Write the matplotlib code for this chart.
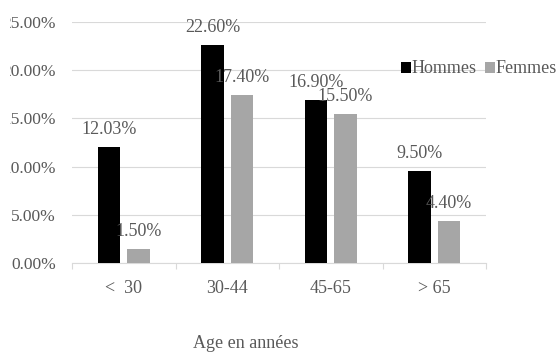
import matplotlib.pyplot as plt
from matplotlib.patches import Rectangle
import numpy as np

# données
categories = ["<  30", "30-44", "45-65", "> 65"]
hommes = [12.03, 22.60, 16.90, 9.50]
femmes = [1.50, 17.40, 15.50, 4.40]
yticks = [0, 5, 10, 15, 20, 25]

plt.rcParams['font.family'] = ['Liberation Serif', 'DejaVu Serif']
gris_texte = '#595959'
gris_ligne = '#d9d9d9'
taille = 13

fig = plt.figure(figsize=(5.6, 3.52), dpi=100)
ax = fig.add_axes([0.1286, 0.2528, 0.8679 - 0.1286, 0.9375 - 0.2528])

x = np.arange(len(categories))
largeur = 0.22
decal = 0.142
b1 = ax.bar(x - decal, hommes, largeur, color='#000000', label='Hommes', zorder=3)
b2 = ax.bar(x + decal, femmes, largeur, color='#a6a6a6', label='Femmes', zorder=3)

for barres in (b1, b2):
    ax.bar_label(barres, fmt='%.2f%%', padding=6.5, fontsize=taille, color=gris_texte)

ax.set_xlim(-0.5, 3.5)
ax.set_ylim(0, 25)
ax.set_yticks(yticks)
ax.set_yticklabels([f"{v:.2f}%" for v in yticks])
ax.set_xticks(x)
ax.set_xticklabels(categories)
ax.set_xticks(np.arange(-0.5, 4, 1), minor=True)

ax.tick_params(axis='y', length=0, pad=11.5, labelsize=12.5, labelcolor=gris_texte)
ax.tick_params(axis='x', which='major', length=0, pad=12, labelsize=taille, labelcolor=gris_texte)
ax.tick_params(axis='x', which='minor', length=4.3, width=0.8, color=gris_ligne, direction='out')

ax.grid(axis='y', color=gris_ligne, linewidth=0.8, zorder=0)
for s in ['top', 'right', 'left']:
    ax.spines[s].set_visible(False)
ax.spines['bottom'].set_color(gris_ligne)
ax.spines['bottom'].set_linewidth(0.8)

leg = fig.legend(loc='center left', bbox_to_anchor=(0.7155, 0.804), ncol=2, frameon=False,
                 fontsize=taille, handlelength=0.55, handleheight=0.55, handletextpad=0.05,
                 columnspacing=0.45, borderpad=0, borderaxespad=0)
for t in leg.get_texts():
    t.set_color(gris_texte)

fig.text(0.439, 0.023, "Age en années", ha='center', va='center', fontsize=taille, color=gris_texte)

# bord gauche rogné comme sur l'image d'origine
fig.add_artist(Rectangle((0, 0), 9.5 / 560, 1, transform=fig.transFigure,
                         facecolor='white', edgecolor='none', zorder=10))

fig.savefig('out.png', dpi=100)
